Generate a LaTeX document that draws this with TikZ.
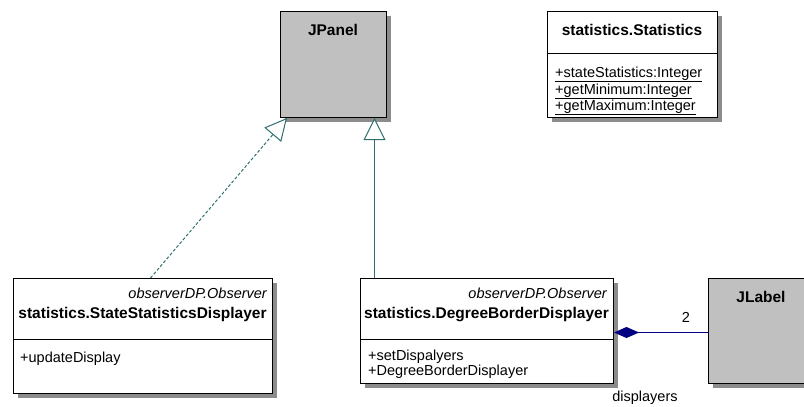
\documentclass[tikz,border=0pt]{standalone}
\usepackage{fontspec}
\setmainfont{Liberation Sans}
\usetikzlibrary{arrows.meta,shadows,calc}
\definecolor{gencol}{RGB}{47,110,110}
\definecolor{compcol}{RGB}{0,0,128}
\definecolor{libgray}{RGB}{192,192,192}
\definecolor{shadowgray}{RGB}{140,140,140}

\begin{document}
\begin{tikzpicture}[x=1pt,y=-1pt,
  boxshadow/.style={drop shadow={shadow xshift=4pt,shadow yshift=-4pt,fill=shadowgray,opacity=1}},
  classbox/.style={draw=black,line width=1pt,fill=white,anchor=north west,inner sep=0pt,boxshadow},
  libbox/.style={classbox,fill=libgray},
  titlefont/.style={font=\fontsize{15.5}{18}\selectfont\bfseries,anchor=base,inner sep=0pt},
  stereo/.style={font=\fontsize{14.5}{17}\selectfont\itshape,anchor=base east,inner sep=0pt},
  member/.style={font=\fontsize{14.5}{17}\selectfont,anchor=base west,inner sep=0pt},
  sep/.style={draw=black,line width=1pt},
  gen/.style={draw=gencol,line width=1pt,-{Triangle[open,length=22pt,width=22pt,fill=white]}},
  real/.style={gen,dash pattern=on 3pt off 2pt},
  comp/.style={draw=compcol,line width=1pt,{Diamond[length=25pt,width=11pt,fill=compcol]}-}
]
\useasboundingbox (0,0) rectangle (804,407);
\clip (0,0) rectangle (804,407);

% library classes
\node[libbox,minimum width=106pt,minimum height=106pt] (jpanel) at (280,11) {};
\node[titlefont] (jpaneltitle) at (333,35) {JPanel};

\node[libbox,minimum width=106pt,minimum height=105pt] (jlabel) at (708,278) {};
\node[titlefont] (jlabeltitle) at (761,302) {JLabel};

% statistics.Statistics
\node[classbox,minimum width=170pt,minimum height=106pt] (stats) at (547,11) {};
\node[titlefont] (statstitle) at (632,35) {statistics.Statistics};
\draw[sep] (stats.west |- 0,53) -- (stats.east |- 0,53);
\node[member] (stats1) at (555,77) {\underline{+stateStatistics:Integer}};
\node[member] (stats2) at (555,94) {\underline{+getMinimum:Integer}};
\node[member] (stats3) at (555,110) {\underline{+getMaximum:Integer}};

% statistics.StateStatisticsDisplayer
\node[classbox,minimum width=259pt,minimum height=115pt] (ssd) at (13,278) {};
\node[stereo] (ssdstereo) at (267,298) {observerDP.Observer};
\node[titlefont] (ssdtitle) at (142.5,318) {statistics.StateStatisticsDisplayer};
\draw[sep] (ssd.west |- 0,339) -- (ssd.east |- 0,339);
\node[member] (ssd1) at (20,362) {+updateDisplay};

% statistics.DegreeBorderDisplayer
\node[classbox,minimum width=253pt,minimum height=105pt] (dbd) at (360,278) {};
\node[stereo] (dbdstereo) at (607,298) {observerDP.Observer};
\node[titlefont] (dbdtitle) at (486.5,318) {statistics.DegreeBorderDisplayer};
\draw[sep] (dbd.west |- 0,339) -- (dbd.east |- 0,339);
\node[member] (dbd1) at (368,360) {+setDispalyers};
\node[member] (dbd2) at (368,375) {+DegreeBorderDisplayer};

% inheritance and realization
\coordinate (jpanelgen) at ([xshift=41pt]jpanel.south);
\draw[gen] (jpanelgen |- dbd.north) -- (jpanelgen);
\draw[real] ([xshift=7.5pt]ssd.north) -- ([xshift=7pt]jpanel.south west);

% composition with JLabel
\coordinate (compstart) at ([yshift=-1.5pt]dbd.east);
\draw[comp] (compstart) -- (compstart -| jlabel.west);
\node[font=\fontsize{14.5}{17}\selectfont,anchor=base,inner sep=0pt] (mult) at (686,322) {2};
\node[font=\fontsize{14.5}{17}\selectfont,anchor=base,inner sep=0pt] (role) at (645,401) {displayers};
\end{tikzpicture}
\end{document}
